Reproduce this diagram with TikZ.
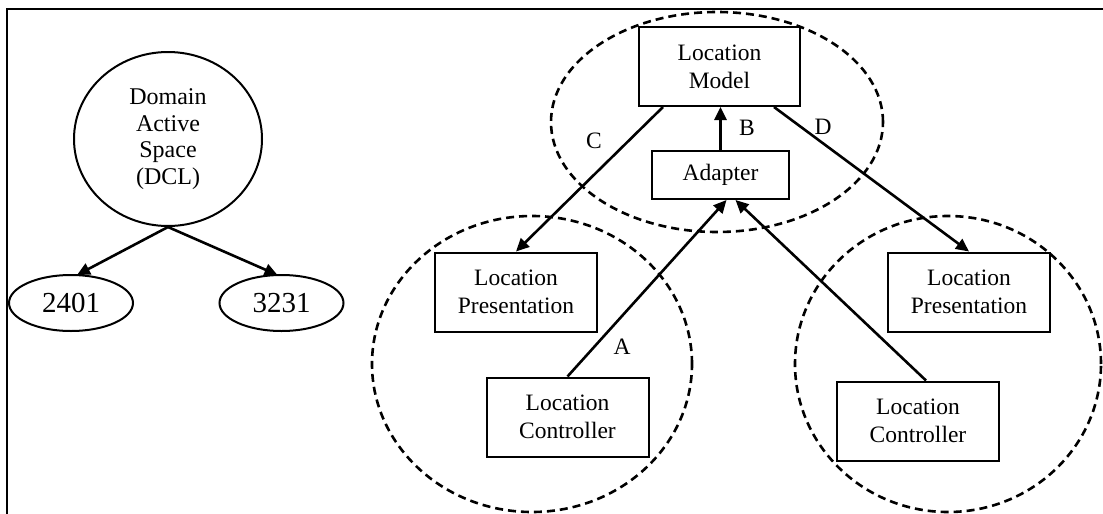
\documentclass[tikz,border=0pt]{standalone}
\usepackage{fontspec}
\setmainfont{Liberation Serif}
\usetikzlibrary{shapes.geometric,arrows.meta,calc}
\begin{document}
\begin{tikzpicture}[x=1pt,y=-1pt,
  box/.style={draw,line width=2pt,inner sep=0pt,minimum width=162pt,minimum height=79pt,align=center,font=\fontsize{23.5}{28}\selectfont},
  oval/.style={draw,ellipse,line width=2pt,inner sep=0pt,align=center},
  grp/.style={draw,ellipse,line width=2.6pt,dash pattern=on 8pt off 5pt,inner sep=0pt},
  conn/.style={line width=2.6pt,-{Triangle[length=13pt,width=12pt]}},
  lbl/.style={inner sep=0pt,font=\fontsize{23.5}{28}\selectfont}]
\useasboundingbox (0,0) rectangle (1103,514);
\draw[line width=2.5pt] (7,514) -- (7,9) -- (1103,9);
% groups
\node[grp,minimum width=332pt,minimum height=220pt] (gtop) at (717,122) {};
\node[grp,minimum width=320pt,minimum height=296pt] (gleft) at (532,364) {};
\node[grp,minimum width=306pt,minimum height=296pt] (gright) at (948,364) {};
% left tree
\node[oval,minimum width=188pt,minimum height=174pt,font=\fontsize{24}{26.5}\selectfont] (dom) at (168,139) {Domain\\Active\\Space\\(DCL)};
\node[oval,minimum width=124pt,minimum height=56pt,font=\fontsize{29}{30}\selectfont] (n2401) at (71,303) {2401};
\node[oval,minimum width=124pt,minimum height=56pt,font=\fontsize{29}{30}\selectfont] (n3231) at (281.5,303) {3231};
\draw[conn] (dom.south) -- ($(n2401.north)+(6,1)$);
\draw[conn] (dom.south) -- ($(n3231.north)+(-4,1)$);
% right part
\node[box,minimum width=161pt] (model) at (719.5,66.5) {Location\\Model};
\node[box,minimum width=137pt,minimum height=48pt] (adapter) at (720.5,175) {Adapter};
\node[box] (presL) at (516,292) {Location\\Presentation};
\node[box] (ctrlL) at (567.5,417) {Location\\Controller};
\node[box] (presR) at (969,292) {Location\\Presentation};
\node[box] (ctrlR) at (918,421) {Location\\Controller};
\draw[conn] (adapter.north) -- (adapter.north |- model.south);
\draw[conn] ($(model.south west)+(25,0)$) -- (presL.north);
\draw[conn] ($(model.south east)+(-27,0)$) -- (presR.north);
\draw[conn] (ctrlL.north) -- ($(adapter.south)+(6,0)$);
\draw[conn] ($(ctrlR.north)+(8,0)$) -- ($(adapter.south)+(15,0)$);
\node[lbl] (la) at (622,347) {A};
\node[lbl] (lb) at (747,128) {B};
\node[lbl] (lc) at (594,141) {C};
\node[lbl] (ld) at (823,127) {D};
\end{tikzpicture}
\end{document}
